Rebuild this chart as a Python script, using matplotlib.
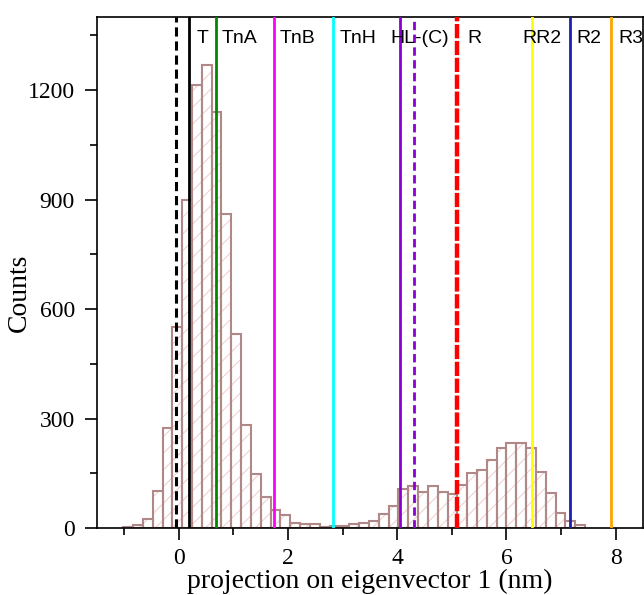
import numpy as np
import matplotlib.pyplot as plt
from matplotlib.ticker import MultipleLocator
import matplotlib.transforms as mtransforms

# histogram of projections (bin left edges in nm, counts)
bin_edges = [-1.02, -0.84, -0.66, -0.48, -0.30, -0.12, 0.06, 0.24, 0.42, 0.60,
             0.78, 0.96, 1.14, 1.32, 1.50, 1.68, 1.86, 2.04, 2.22, 2.40,
             2.58, 2.76, 2.94, 3.12, 3.30, 3.48, 3.66, 3.84, 4.02, 4.20,
             4.38, 4.56, 4.74, 4.92, 5.10, 5.28, 5.46, 5.64, 5.82, 6.00,
             6.18, 6.36, 6.54, 6.72, 6.90, 7.08, 7.26]
counts = [3, 8, 26, 102, 274, 552, 899, 1213, 1268, 1140,
          860, 532, 281, 149, 86, 50, 36, 15, 10, 10,
          4, 5, 5, 11, 15, 19, 37, 60, 106, 115,
          99, 115, 99, 92, 119, 151, 158, 186, 219, 234,
          234, 219, 154, 95, 40, 19, 7]
bin_width = 0.18

# reference structures projected on eigenvector 1
ref_pos = [-0.05, 0.187, 0.686, 1.735, 2.82, 4.047, 4.31, 5.09, 6.47, 7.16, 7.92]
ref_colors = ['black', 'black', '#008800', '#ff00ff', '#00ffff', '#8a00d4',
              '#8a00d4', '#ff0000', '#ffff00', '#1e1eb4', '#ffa500']
ref_dashed = [True, False, False, False, False, False, True, True, False, False, False]
ref_lw = [2.2, 2, 2, 2, 2, 2, 2, 3.2, 2, 2, 2]

labels = ['T', 'TnA', 'TnB', 'TnH', 'HL-(C)', 'R', 'RR2', 'R2', 'R3']
label_x = [0.325, 0.79, 1.85, 2.95, 3.88, 5.28, 6.29, 7.28, 8.05]

fig = plt.figure(figsize=(6.44, 5.95), dpi=100)
ax = fig.add_axes([0.1506, 0.1126, 0.8478, 0.8588])

plt.rcParams['hatch.linewidth'] = 0.8
ax.bar(bin_edges, counts, width=bin_width, align='edge', color='white',
       edgecolor='#f0d2d2', hatch='//', linewidth=0, zorder=1)
ax.bar(bin_edges, counts, width=bin_width, align='edge', fill=False,
       edgecolor='#b08888', linewidth=1.5, zorder=2)

for x, c, d, lw in zip(ref_pos, ref_colors, ref_dashed, ref_lw):
    if d:
        dash = (3.0, 1.6) if c != '#ff0000' else (3.2, 0.6)
        ax.axvline(x, color=c, lw=lw, dashes=dash, zorder=3)
    else:
        ax.axvline(x, color=c, lw=lw, zorder=3)

trans = mtransforms.blended_transform_factory(ax.transData, ax.transAxes)
for x, t in zip(label_x, labels):
    ax.text(x, 0.949, t, transform=trans, ha='left', va='baseline',
            fontsize=14, family='Liberation Sans', zorder=4)

ax.set_xlim(-1.5, 8.5)
ax.set_ylim(0, 1400)
ax.xaxis.set_major_locator(MultipleLocator(2))
ax.xaxis.set_minor_locator(MultipleLocator(1))
ax.yaxis.set_major_locator(MultipleLocator(300))
ax.yaxis.set_minor_locator(MultipleLocator(150))
ax.tick_params(which='major', direction='out', length=8.5, width=1.2,
               labelsize=17)
ax.tick_params(which='minor', direction='out', length=5, width=1.2)
ax.tick_params(axis='x', which='major', pad=6)
ax.tick_params(axis='y', which='major', pad=7.5)
for lab in ax.get_xticklabels() + ax.get_yticklabels():
    lab.set_family('Liberation Serif')
for s in ax.spines.values():
    s.set_linewidth(1.2)

ax.set_xlabel('projection on eigenvector 1 (nm)', family='Liberation Serif',
              fontsize=20, labelpad=0)
ax.set_ylabel('Counts', family='Liberation Serif', fontsize=20)
ax.yaxis.set_label_coords(-0.12, 0.46)

fig.savefig('out.png', dpi=100)
